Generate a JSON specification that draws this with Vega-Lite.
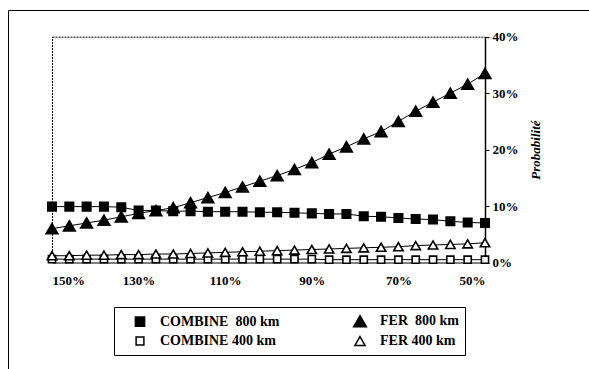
{
  "$schema": "https://vega.github.io/schema/vega-lite/v6.json",
  "width": 581,
  "height": 359,
  "autosize": {"type": "none"},
  "padding": {"left": 8, "top": 10, "right": 0, "bottom": 0},
  "background": "white",
  "config": {
    "view": {"stroke": "black", "strokeWidth": 1},
    "font": "Liberation Serif",
    "legend": {
      "title": null,
      "orient": "none",
      "legendX": 106,
      "legendY": 297,
      "columns": 2,
      "gridAlign": "all",
      "columnPadding": 60,
      "rowPadding": 3,
      "padding": 6,
      "strokeColor": "black",
      "labelFont": "Liberation Serif",
      "labelFontSize": 14,
      "labelFontWeight": "bold",
      "labelColor": "black",
      "labelOffset": 12,
      "symbolOffset": 12,
      "symbolSize": 200,
      "symbolStrokeColor": "black",
      "symbolStrokeWidth": 1.5
    }
  },
  "data": {
    "values": [
      {"pct": 150, "series": "COMBINE\u00a0 800 km", "prob": 9.9},
      {"pct": 146, "series": "COMBINE\u00a0 800 km", "prob": 9.9},
      {"pct": 142, "series": "COMBINE\u00a0 800 km", "prob": 9.9},
      {"pct": 138, "series": "COMBINE\u00a0 800 km", "prob": 9.9},
      {"pct": 134, "series": "COMBINE\u00a0 800 km", "prob": 9.8},
      {"pct": 130, "series": "COMBINE\u00a0 800 km", "prob": 9.2},
      {"pct": 126, "series": "COMBINE\u00a0 800 km", "prob": 9.2},
      {"pct": 122, "series": "COMBINE\u00a0 800 km", "prob": 9.1},
      {"pct": 118, "series": "COMBINE\u00a0 800 km", "prob": 9.1},
      {"pct": 114, "series": "COMBINE\u00a0 800 km", "prob": 9.0},
      {"pct": 110, "series": "COMBINE\u00a0 800 km", "prob": 9.0},
      {"pct": 106, "series": "COMBINE\u00a0 800 km", "prob": 9.0},
      {"pct": 102, "series": "COMBINE\u00a0 800 km", "prob": 8.9},
      {"pct": 98, "series": "COMBINE\u00a0 800 km", "prob": 8.9},
      {"pct": 94, "series": "COMBINE\u00a0 800 km", "prob": 8.8},
      {"pct": 90, "series": "COMBINE\u00a0 800 km", "prob": 8.7},
      {"pct": 86, "series": "COMBINE\u00a0 800 km", "prob": 8.6},
      {"pct": 82, "series": "COMBINE\u00a0 800 km", "prob": 8.6},
      {"pct": 78, "series": "COMBINE\u00a0 800 km", "prob": 8.2},
      {"pct": 74, "series": "COMBINE\u00a0 800 km", "prob": 8.1},
      {"pct": 70, "series": "COMBINE\u00a0 800 km", "prob": 7.9},
      {"pct": 66, "series": "COMBINE\u00a0 800 km", "prob": 7.7},
      {"pct": 62, "series": "COMBINE\u00a0 800 km", "prob": 7.6},
      {"pct": 58, "series": "COMBINE\u00a0 800 km", "prob": 7.3},
      {"pct": 54, "series": "COMBINE\u00a0 800 km", "prob": 7.1},
      {"pct": 50, "series": "COMBINE\u00a0 800 km", "prob": 7.0},

      {"pct": 150, "series": "FER\u00a0 800 km", "prob": 6.0},
      {"pct": 146, "series": "FER\u00a0 800 km", "prob": 6.5},
      {"pct": 142, "series": "FER\u00a0 800 km", "prob": 7.0},
      {"pct": 138, "series": "FER\u00a0 800 km", "prob": 7.5},
      {"pct": 134, "series": "FER\u00a0 800 km", "prob": 8.1},
      {"pct": 130, "series": "FER\u00a0 800 km", "prob": 8.7},
      {"pct": 126, "series": "FER\u00a0 800 km", "prob": 9.2},
      {"pct": 122, "series": "FER\u00a0 800 km", "prob": 9.7},
      {"pct": 118, "series": "FER\u00a0 800 km", "prob": 10.6},
      {"pct": 114, "series": "FER\u00a0 800 km", "prob": 11.5},
      {"pct": 110, "series": "FER\u00a0 800 km", "prob": 12.4},
      {"pct": 106, "series": "FER\u00a0 800 km", "prob": 13.4},
      {"pct": 102, "series": "FER\u00a0 800 km", "prob": 14.4},
      {"pct": 98, "series": "FER\u00a0 800 km", "prob": 15.4},
      {"pct": 94, "series": "FER\u00a0 800 km", "prob": 16.5},
      {"pct": 90, "series": "FER\u00a0 800 km", "prob": 17.7},
      {"pct": 86, "series": "FER\u00a0 800 km", "prob": 19.2},
      {"pct": 82, "series": "FER\u00a0 800 km", "prob": 20.5},
      {"pct": 78, "series": "FER\u00a0 800 km", "prob": 21.9},
      {"pct": 74, "series": "FER\u00a0 800 km", "prob": 23.2},
      {"pct": 70, "series": "FER\u00a0 800 km", "prob": 25.0},
      {"pct": 66, "series": "FER\u00a0 800 km", "prob": 26.8},
      {"pct": 62, "series": "FER\u00a0 800 km", "prob": 28.4},
      {"pct": 58, "series": "FER\u00a0 800 km", "prob": 30.0},
      {"pct": 54, "series": "FER\u00a0 800 km", "prob": 31.6},
      {"pct": 50, "series": "FER\u00a0 800 km", "prob": 33.5},

      {"pct": 150, "series": "COMBINE 400 km", "prob": 0.6},
      {"pct": 146, "series": "COMBINE 400 km", "prob": 0.6},
      {"pct": 142, "series": "COMBINE 400 km", "prob": 0.6},
      {"pct": 138, "series": "COMBINE 400 km", "prob": 0.6},
      {"pct": 134, "series": "COMBINE 400 km", "prob": 0.6},
      {"pct": 130, "series": "COMBINE 400 km", "prob": 0.6},
      {"pct": 126, "series": "COMBINE 400 km", "prob": 0.6},
      {"pct": 122, "series": "COMBINE 400 km", "prob": 0.6},
      {"pct": 118, "series": "COMBINE 400 km", "prob": 0.6},
      {"pct": 114, "series": "COMBINE 400 km", "prob": 0.6},
      {"pct": 110, "series": "COMBINE 400 km", "prob": 0.6},
      {"pct": 106, "series": "COMBINE 400 km", "prob": 0.6},
      {"pct": 102, "series": "COMBINE 400 km", "prob": 0.6},
      {"pct": 98, "series": "COMBINE 400 km", "prob": 0.6},
      {"pct": 94, "series": "COMBINE 400 km", "prob": 0.6},
      {"pct": 90, "series": "COMBINE 400 km", "prob": 0.6},
      {"pct": 86, "series": "COMBINE 400 km", "prob": 0.5},
      {"pct": 82, "series": "COMBINE 400 km", "prob": 0.5},
      {"pct": 78, "series": "COMBINE 400 km", "prob": 0.5},
      {"pct": 74, "series": "COMBINE 400 km", "prob": 0.5},
      {"pct": 70, "series": "COMBINE 400 km", "prob": 0.5},
      {"pct": 66, "series": "COMBINE 400 km", "prob": 0.5},
      {"pct": 62, "series": "COMBINE 400 km", "prob": 0.5},
      {"pct": 58, "series": "COMBINE 400 km", "prob": 0.5},
      {"pct": 54, "series": "COMBINE 400 km", "prob": 0.5},
      {"pct": 50, "series": "COMBINE 400 km", "prob": 0.5},

      {"pct": 150, "series": "FER 400 km", "prob": 1.2},
      {"pct": 146, "series": "FER 400 km", "prob": 1.2},
      {"pct": 142, "series": "FER 400 km", "prob": 1.3},
      {"pct": 138, "series": "FER 400 km", "prob": 1.3},
      {"pct": 134, "series": "FER 400 km", "prob": 1.4},
      {"pct": 130, "series": "FER 400 km", "prob": 1.4},
      {"pct": 126, "series": "FER 400 km", "prob": 1.5},
      {"pct": 122, "series": "FER 400 km", "prob": 1.5},
      {"pct": 118, "series": "FER 400 km", "prob": 1.6},
      {"pct": 114, "series": "FER 400 km", "prob": 1.7},
      {"pct": 110, "series": "FER 400 km", "prob": 1.8},
      {"pct": 106, "series": "FER 400 km", "prob": 1.9},
      {"pct": 102, "series": "FER 400 km", "prob": 2.0},
      {"pct": 98, "series": "FER 400 km", "prob": 2.1},
      {"pct": 94, "series": "FER 400 km", "prob": 2.2},
      {"pct": 90, "series": "FER 400 km", "prob": 2.3},
      {"pct": 86, "series": "FER 400 km", "prob": 2.4},
      {"pct": 82, "series": "FER 400 km", "prob": 2.5},
      {"pct": 78, "series": "FER 400 km", "prob": 2.6},
      {"pct": 74, "series": "FER 400 km", "prob": 2.7},
      {"pct": 70, "series": "FER 400 km", "prob": 2.8},
      {"pct": 66, "series": "FER 400 km", "prob": 3.0},
      {"pct": 62, "series": "FER 400 km", "prob": 3.1},
      {"pct": 58, "series": "FER 400 km", "prob": 3.2},
      {"pct": 54, "series": "FER 400 km", "prob": 3.3},
      {"pct": 50, "series": "FER 400 km", "prob": 3.5}
    ]
  },
  "layer": [
    {
      "mark": {"type": "line", "color": "black", "strokeWidth": 1},
      "encoding": {
        "x": {
          "field": "pct",
          "type": "quantitative",
          "scale": {"domain": [150, 50], "range": [44, 477], "nice": false, "zero": false},
          "axis": {
            "orient": "bottom",
            "offset": -106.5,
            "values": [150, 130, 110, 90, 70, 50],
            "labelExpr": "datum.value + '%'",
            "labelFont": "Liberation Serif",
            "labelFontSize": 13,
            "labelFontWeight": "bold",
            "labelColor": "black",
            "labelPadding": 12,
            "tickSize": 0,
            "domainColor": "black",
            "grid": false,
            "title": null
          }
        },
        "y": {
          "field": "prob",
          "type": "quantitative",
          "scale": {"domain": [0, 40], "range": [252.5, 26.7], "nice": false, "zero": false},
          "axis": {
            "orient": "right",
            "offset": -104,
            "values": [0, 10, 20, 30, 40],
            "labelExpr": "datum.value + '%'",
            "labelFont": "Liberation Serif",
            "labelFontSize": 13,
            "labelFontWeight": "bold",
            "labelColor": "black",
            "labelPadding": 3,
            "tickSize": 4,
            "tickColor": "black",
            "domainColor": "black",
            "domainWidth": 1.5,
            "grid": false,
            "title": "Probabilité",
            "titleFont": "Liberation Serif",
            "titleFontSize": 13,
            "titleFontStyle": "italic",
            "titleFontWeight": "bold",
            "titleColor": "black",
            "titleAngle": 270,
            "titlePadding": 24
          }
        },
        "detail": {"field": "series"}
      }
    },
    {
      "mark": {"type": "point", "filled": true, "strokeWidth": 1.6, "opacity": 1, "size": 169},
      "encoding": {
        "x": {
          "field": "pct",
          "type": "quantitative",
          "scale": {"domain": [150, 50], "range": [44, 477], "nice": false, "zero": false},
          "axis": {
            "orient": "top",
            "offset": -26.7,
            "labels": false,
            "ticks": false,
            "domainColor": "black",
            "domainDash": [2, 1],
            "grid": false,
            "title": null
          }
        },
        "y": {
          "field": "prob",
          "type": "quantitative",
          "scale": {"domain": [0, 40], "range": [252.5, 26.7], "nice": false, "zero": false},
          "axis": {
            "orient": "left",
            "offset": -44,
            "labels": false,
            "ticks": false,
            "domainColor": "black",
            "domainDash": [2, 1],
            "grid": false,
            "title": null
          }
        },
        "shape": {
          "field": "series",
          "type": "nominal",
          "scale": {
            "domain": ["COMBINE\u00a0 800 km", "COMBINE 400 km", "FER\u00a0 800 km", "FER 400 km"],
            "range": [
              "M-0.65,-0.65H0.65V0.65H-0.65Z",
              "M-0.55,-0.55H0.55V0.55H-0.55Z",
              "M0,-0.78L0.9,0.78H-0.9Z",
              "M0,-0.62L0.72,0.62H-0.72Z"
            ]
          },
          "legend": {}
        },
        "fill": {
          "field": "series",
          "type": "nominal",
          "scale": {
            "domain": ["COMBINE\u00a0 800 km", "COMBINE 400 km", "FER\u00a0 800 km", "FER 400 km"],
            "range": ["black", "white", "black", "white"]
          },
          "legend": {}
        },
        "stroke": {
          "field": "series",
          "type": "nominal",
          "scale": {
            "domain": ["COMBINE\u00a0 800 km", "COMBINE 400 km", "FER\u00a0 800 km", "FER 400 km"],
            "range": ["black", "black", "black", "black"]
          },
          "legend": {}
        }
      }
    }
  ],
  "resolve": {"axis": {"x": "independent", "y": "independent"}}
}
